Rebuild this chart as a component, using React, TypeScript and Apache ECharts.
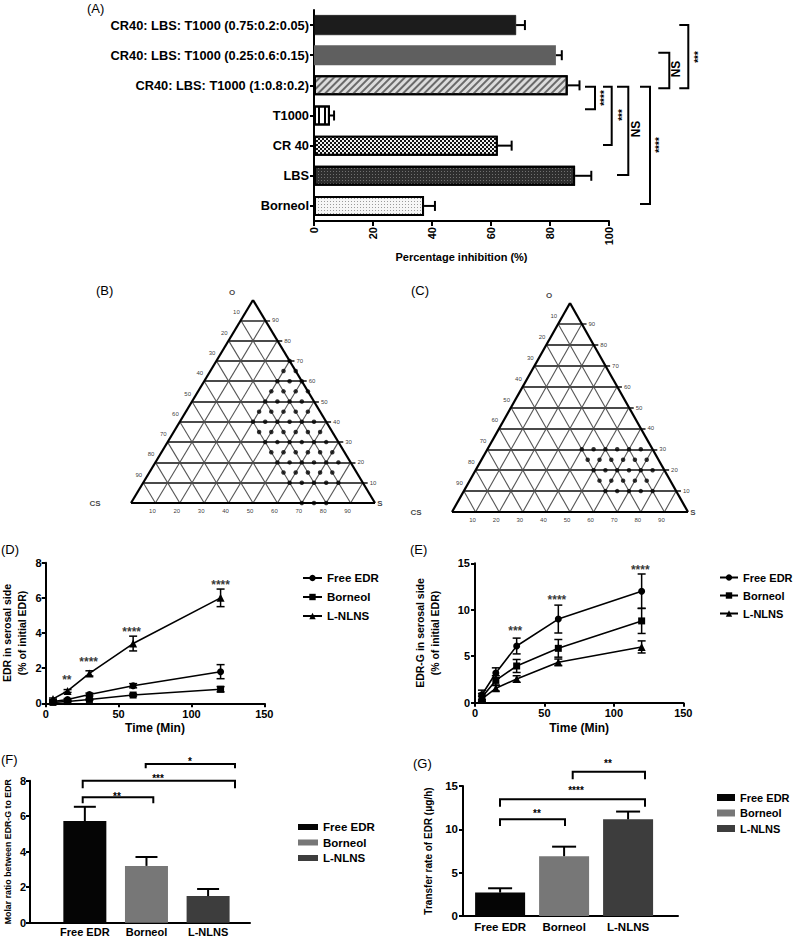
import React, { useEffect, useRef } from 'react';
import * as echarts from 'echarts';

const FONT = "'Liberation Sans', Arial, Helvetica, sans-serif";
const NARROW = "'Liberation Sans Narrow', 'Arial Narrow', 'Liberation Sans', Arial, sans-serif";

// ---------- Panel A ----------
const catsA = [
  'CR40: LBS: T1000 (0.75:0.2:0.05)',
  'CR40: LBS: T1000 (0.25:0.6:0.15)',
  'CR40: LBS: T1000 (1:0.8:0.2)',
  'T1000',
  'CR 40',
  'LBS',
  'Borneol',
];
const valuesA = [68.5, 82, 86, 5.4, 62.3, 88.5, 37.3];
const errorsA = [3, 2, 4, 1.4, 4.7, 5.5, 3.7];

// ---------- Ternary panels (B, C): [O, S] in % ----------
const ternTicks = [10, 20, 30, 40, 50, 60, 70, 80, 90];
const dotsB = [
  [70, 30],
  [65, 30], [65, 35],
  [60, 30], [60, 35], [60, 40],
  [55, 30], [55, 35], [55, 40], [55, 45],
  [50, 30], [50, 35], [50, 40], [50, 45],
  [45, 30], [45, 35], [45, 40], [45, 45], [45, 50],
  [40, 30], [40, 35], [40, 40], [40, 45], [40, 50], [40, 55],
  [35, 35], [35, 40], [35, 45], [35, 50], [35, 55], [35, 60],
  [30, 40], [30, 45], [30, 50], [30, 55], [30, 60], [30, 65],
  [25, 45], [25, 50], [25, 55], [25, 60], [25, 65], [25, 70],
  [20, 50], [20, 55], [20, 60], [20, 65], [20, 70], [20, 75],
  [15, 55], [15, 60], [15, 65], [15, 70], [15, 75],
  [10, 60], [10, 65], [10, 70], [10, 75], [10, 80],
  [0, 70], [0, 75], [0, 80],
];
const dotsC = [
  [30, 40], [30, 45], [30, 50], [30, 55], [30, 60], [30, 65],
  [25, 45], [25, 50], [25, 55], [25, 60], [25, 65], [25, 70],
  [20, 50], [20, 55], [20, 60], [20, 65], [20, 70], [20, 75],
  [15, 55], [15, 60], [15, 65], [15, 70], [15, 75],
  [10, 60], [10, 65], [10, 70], [10, 75], [10, 80],
];

// ---------- Panels D, E ----------
const times = [5, 15, 30, 60, 120];
const dFree = [0.1, 0.22, 0.5, 1.0, 1.8];
const dFreeErr = [0.04, 0.05, 0.08, 0.12, 0.4];
const dBorneol = [0.05, 0.1, 0.22, 0.47, 0.8];
const dBorneolErr = [0.03, 0.03, 0.05, 0.06, 0.15];
const dLNLNS = [0.25, 0.7, 1.7, 3.4, 6.0];
const dLNLNSErr = [0.05, 0.08, 0.15, 0.42, 0.5];
const dStarT = [14.5, 29.5, 59, 120];
const dStarV = [1.51, 2.52, 4.21, 6.92];
const dStarText = ['**', '****', '****', '****'];

const eFree = [0.85, 3.2, 6.1, 9.0, 12.0];
const eFreeErr = [0.5, 0.55, 0.85, 1.5, 1.85];
const eBorneol = [0.6, 2.4, 3.95, 5.85, 8.8];
const eBorneolErr = [0.4, 0.5, 0.7, 0.95, 1.35];
const eLNLNS = [0.4, 1.55, 2.55, 4.35, 6.0];
const eLNLNSErr = [0.3, 0.3, 0.35, 0.35, 0.65];
const eStarT = [29, 59, 119];
const eStarV = [8.0, 11.35, 14.63];
const eStarText = ['***', '****', '****'];

const legendNames = ['Free EDR', 'Borneol', 'L-NLNS'];
const lineSymbols = ['circle', 'rect', 'triangle'];

// ---------- Panels F, G ----------
const catsF = ['Free EDR', 'Borneol', 'L-NLNS'];
const valuesF = [5.73, 3.2, 1.5];
const errorsF = [0.8, 0.5, 0.4];
const valuesG = [2.7, 6.9, 11.15];
const errorsG = [0.5, 1.1, 0.9];
const barColors = ['#050505', '#777777', '#3d3d3d'];
const ZW = '\u200b';

// ---------- helpers ----------
const axisLine = { show: true, onZero: false, lineStyle: { color: '#000', width: 2 } };
const axisTick = { show: true, length: 4, lineStyle: { color: '#000', width: 2 } };
const bold = (size: number) => ({ color: '#000', fontWeight: 'bold', fontSize: size, fontFamily: FONT });
const noSplit = { show: false };

function vErrSeries(ax: number, xs: number[], ys: number[], es: number[], cap: number, upOnly: boolean, lw: number) {
  return {
    type: 'custom',
    xAxisIndex: ax,
    yAxisIndex: ax,
    silent: true,
    z: 5,
    data: xs.map((x, i) => [x, ys[i], es[i]]),
    renderItem: (_p: any, api: any) => {
      const x = api.value(0), y = api.value(1), e = api.value(2);
      const top = api.coord([x, y + e]);
      const bot = api.coord(upOnly ? [x, y] : [x, y - e]);
      const st = { stroke: '#000', lineWidth: lw };
      const ch: any[] = [
        { type: 'line', shape: { x1: top[0], y1: top[1], x2: bot[0], y2: bot[1] }, style: st },
        { type: 'line', shape: { x1: top[0] - cap, y1: top[1], x2: top[0] + cap, y2: top[1] }, style: st },
      ];
      if (!upOnly) ch.push({ type: 'line', shape: { x1: bot[0] - cap, y1: bot[1], x2: bot[0] + cap, y2: bot[1] }, style: st });
      return { type: 'group', children: ch };
    },
  };
}

function ternarySeries(ax: number, dots: number[][]) {
  const horiz: any[] = [];
  const diag: any[] = [];
  for (const k of ternTicks) {
    horiz.push({ coords: [[k / 2, k], [100 - k / 2 + 2, k]] });
    diag.push({ coords: [[k, 0], [k + (100 - k) / 2, 100 - k]] });
    diag.push({ coords: [[100 - k, 0], [(100 - k) / 2, 100 - k]] });
  }
  const outer = [
    { coords: [[0, 0], [100, 0]] },
    { coords: [[0, 0], [50, 100]] },
    { coords: [[100, 0], [50, 100]] },
  ];
  const tickLabel = {
    show: true, formatter: '{b}', fontSize: 6, color: '#000', fontFamily: FONT,
    textBorderWidth: 0, textShadowBlur: 0,
  };
  const labelSeries = (data: any[], label: any) => ({
    type: 'scatter', xAxisIndex: ax, yAxisIndex: ax, silent: true, symbolSize: 0,
    itemStyle: { color: '#000' },
    label, data,
  });
  return [
    { type: 'lines', coordinateSystem: 'cartesian2d', xAxisIndex: ax, yAxisIndex: ax, silent: true, z: 2, data: diag, lineStyle: { color: '#555', width: 1.1, opacity: 1 } },
    { type: 'lines', coordinateSystem: 'cartesian2d', xAxisIndex: ax, yAxisIndex: ax, silent: true, z: 3, data: horiz, lineStyle: { color: '#4a4a4a', width: 1.8, opacity: 1 } },
    { type: 'lines', coordinateSystem: 'cartesian2d', xAxisIndex: ax, yAxisIndex: ax, silent: true, z: 4, data: outer, lineStyle: { color: '#000', width: 2.2, opacity: 1 } },
    {
      type: 'scatter', xAxisIndex: ax, yAxisIndex: ax, silent: true, z: 6, symbol: 'circle', symbolSize: 4.5,
      itemStyle: { color: '#000' },
      data: dots.map(([o, s]) => [s + o / 2, o]),
    },
    labelSeries(
      ternTicks.map((k) => ({ name: String(k), value: [100 - k / 2 + 2, k] })),
      { ...tickLabel, position: 'right', distance: 2 },
    ),
    labelSeries(
      ternTicks.map((k) => ({ name: String(k), value: [(100 - k) / 2, 100 - k] })),
      { ...tickLabel, position: 'left', distance: 1, offset: [0, -8] },
    ),
    labelSeries(
      ternTicks.map((k) => ({ name: String(k), value: [k, 0] })),
      { ...tickLabel, position: 'bottom', distance: 5, offset: [-3, 0] },
    ),
    labelSeries(
      [
        { name: 'O', value: [50, 100], label: { offset: [-21, -8] } },
        { name: 'CS', value: [0, 0], label: { offset: [-36, 0] } },
        { name: 'S', value: [100, 0], label: { offset: [5, 0] } },
      ],
      { ...tickLabel, fontSize: 8, fontWeight: 'bold', color: '#111', position: 'inside' },
    ),
  ];
}

function lineSeries(ax: number, name: string, sym: string, vals: number[]) {
  return {
    type: 'line', name, xAxisIndex: ax, yAxisIndex: ax, z: 4,
    data: times.map((t, i) => [t, vals[i]]),
    symbol: sym, symbolSize: sym === 'triangle' ? 8 : 7, showAllSymbol: true,
    lineStyle: { color: '#000', width: 1.6 },
    itemStyle: { color: '#000' },
  };
}

function starSeries(ax: number, ts: number[], vs: number[], txt: string[]) {
  return {
    type: 'scatter', xAxisIndex: ax, yAxisIndex: ax, silent: true, symbolSize: 0, z: 6,
    itemStyle: { color: '#000' },
    data: ts.map((t, i) => ({ name: txt[i], value: [t, vs[i]] })),
    label: { show: true, position: 'inside', formatter: '{b}', ...bold(12), offset: [0, 3] },
  };
}

function barSeries(ax: number, vals: number[], width: number) {
  return catsF.map((c, i) => ({
    type: 'bar', name: c + ZW, xAxisIndex: ax, yAxisIndex: ax, barWidth: width, barGap: '-100%', z: 3,
    data: [[i, vals[i]]],
    itemStyle: { color: barColors[i] },
  }));
}

function bracket(points: number[][], lw = 2) {
  return { type: 'polyline', shape: { points }, style: { stroke: '#000', lineWidth: lw, fill: null } };
}
function txt(text: string, x: number, y: number, font: string, rotation = 0, align = 'center', vAlign = 'middle') {
  return { type: 'text', x, y, rotation, style: { text, font, fill: '#000', align, verticalAlign: vAlign } };
}

function buildOption() {
  const grids = [
    { left: 314, top: 10, width: 295, height: 211 },
    { left: 131, top: 300, width: 244, height: 203 },
    { left: 452, top: 303, width: 236, height: 209 },
    { left: 45.7, top: 562.7, width: 218.6, height: 140.6 },
    { left: 475, top: 563.3, width: 208.3, height: 139.4 },
    { left: 30, top: 780.7, width: 220, height: 142 },
    { left: 463, top: 786, width: 215, height: 130 },
  ].map((g) => ({ ...g, show: false, containLabel: false, outerBoundsMode: 'none' }));

  const hiddenX = (i: number) => ({ type: 'value', gridIndex: i, min: 0, max: 100, show: false });
  const hiddenY = (i: number) => ({ type: 'value', gridIndex: i, min: 0, max: 100, show: false });

  const xAxis = [
    {
      type: 'value', gridIndex: 0, min: 0, max: 100, interval: 20,
      axisLine, axisTick: { ...axisTick, length: 5 }, splitLine: noSplit,
      axisLabel: { ...bold(11), rotate: 90, margin: 6 },
      name: 'Percentage inhibition (%)', nameLocation: 'middle', nameGap: 30,
      nameTextStyle: bold(11),
    },
    hiddenX(1),
    hiddenX(2),
    {
      type: 'value', gridIndex: 3, min: 0, max: 150, interval: 50,
      axisLine, axisTick, splitLine: noSplit, axisLabel: { ...bold(11), margin: 5 },
      name: 'Time (Min)', nameLocation: 'middle', nameGap: 19, nameTextStyle: bold(12),
    },
    {
      type: 'value', gridIndex: 4, min: 0, max: 150, interval: 50,
      axisLine, axisTick, splitLine: noSplit, axisLabel: { ...bold(11), margin: 5 },
      name: 'Time (Min)', nameLocation: 'middle', nameGap: 19, nameTextStyle: bold(12),
    },
    {
      type: 'value', gridIndex: 5, min: -0.89, max: 2.68,
      axisLine, axisTick: { show: false }, splitLine: noSplit,
      axisLabel: { ...bold(11), margin: 4, customValues: [0, 1, 2], formatter: (v: number) => catsF[Math.round(v)] ?? '' },
    },
    {
      type: 'value', gridIndex: 6, min: -0.58, max: 2.78,
      axisLine, axisTick: { show: false }, splitLine: noSplit,
      axisLabel: { ...bold(11.5), margin: 5, customValues: [0, 1, 2], formatter: (v: number) => catsF[Math.round(v)] ?? '' },
    },
  ];

  const yAxis = [
    {
      type: 'category', gridIndex: 0, data: catsA, inverse: true,
      axisLine, axisTick: { ...axisTick, alignWithLabel: true }, splitLine: noSplit,
      axisLabel: { ...bold(12.8), margin: 5 },
    },
    hiddenY(1),
    hiddenY(2),
    {
      type: 'value', gridIndex: 3, min: 0, max: 8, interval: 2,
      axisLine, axisTick, splitLine: noSplit, axisLabel: { ...bold(11), margin: 4 },
      name: 'EDR in serosal side\n(% of initial EDR)', nameLocation: 'middle', nameRotate: 90, nameGap: 16,
      nameTextStyle: { ...bold(10.5), lineHeight: 15 },
    },
    {
      type: 'value', gridIndex: 4, min: 0, max: 15, interval: 5,
      axisLine, axisTick, splitLine: noSplit, axisLabel: { ...bold(11), margin: 5 },
      name: 'EDR-G in serosal side\n(% of initial EDR)', nameLocation: 'middle', nameRotate: 90, nameGap: 33,
      nameTextStyle: { ...bold(10.5), lineHeight: 15 },
    },
    {
      type: 'value', gridIndex: 5, min: 0, max: 8, interval: 2,
      axisLine, axisTick, splitLine: noSplit, axisLabel: { ...bold(11), margin: 4 },
      name: 'Molar ratio between EDR-G to EDR', nameLocation: 'middle', nameRotate: 90, nameGap: 18,
      nameTextStyle: { color: '#000', fontWeight: 'bold', fontSize: 8.8, fontFamily: NARROW },
    },
    {
      type: 'value', gridIndex: 6, min: 0, max: 15, interval: 5,
      axisLine, axisTick, splitLine: noSplit, axisLabel: { ...bold(11.5), margin: 5 },
      name: 'Transfer rate of EDR (\u03bcg/h)', nameLocation: 'middle', nameRotate: 90, nameGap: 30,
      nameTextStyle: { ...bold(10) },
    },
  ];

  const decals: any[] = [
    null,
    null,
    { symbol: 'rect', color: '#6a6a6a', dashArrayX: [1, 0], dashArrayY: [1.3, 2.2], rotation: -Math.PI / 4 },
    { symbol: 'rect', color: '#000', dashArrayX: [1.4, 3.4], dashArrayY: [1, 0] },
    { symbol: 'rect', color: '#f0f0f0', dashArrayX: [[1.5, 1.5], [0, 1.5, 1.5, 0]], dashArrayY: [1.5, 0] },
    { symbol: 'rect', color: '#707070', dashArrayX: [1, 1.5], dashArrayY: [1, 1.5] },
    { symbol: 'rect', color: '#9a9a9a', dashArrayX: [1, 1.5], dashArrayY: [1, 1.5] },
  ];
  const fillsA = ['#1c1c1c', '#5f5f5f', '#dcdcdc', '#ffffff', '#111111', '#2e2e2e', '#f6f6f6'];
  const bordersA = [0.5, 0, 2, 2, 2, 2, 2];

  const series: any[] = [
    {
      type: 'bar', xAxisIndex: 0, yAxisIndex: 0, barWidth: 20, z: 3,
      data: valuesA.map((v, i) => ({
        value: v,
        itemStyle: {
          color: fillsA[i], borderColor: '#000', borderWidth: bordersA[i],
          ...(decals[i] ? { decal: decals[i] } : {}),
        },
      })),
    },
    {
      type: 'custom', xAxisIndex: 0, yAxisIndex: 0, silent: true, z: 5,
      data: valuesA.map((v, i) => [v, i, errorsA[i]]),
      encode: { x: 0, y: 1 },
      renderItem: (_p: any, api: any) => {
        const v = api.value(0), c = api.value(1), e = api.value(2);
        const p0 = api.coord([v, c]);
        const p1 = api.coord([v + e, c]);
        const st = { stroke: '#000', lineWidth: 2 };
        return {
          type: 'group', children: [
            { type: 'line', shape: { x1: p0[0], y1: p0[1], x2: p1[0], y2: p1[1] }, style: st },
            { type: 'line', shape: { x1: p1[0], y1: p1[1] - 5, x2: p1[0], y2: p1[1] + 5 }, style: st },
          ],
        };
      },
    },
    ...ternarySeries(1, dotsB),
    ...ternarySeries(2, dotsC),
    lineSeries(3, legendNames[0], lineSymbols[0], dFree),
    lineSeries(3, legendNames[1], lineSymbols[1], dBorneol),
    lineSeries(3, legendNames[2], lineSymbols[2], dLNLNS),
    vErrSeries(3, times, dFree, dFreeErr, 4, false, 1.5),
    vErrSeries(3, times, dBorneol, dBorneolErr, 4, false, 1.5),
    vErrSeries(3, times, dLNLNS, dLNLNSErr, 4, false, 1.5),
    starSeries(3, dStarT, dStarV, dStarText),
    lineSeries(4, legendNames[0], lineSymbols[0], eFree),
    lineSeries(4, legendNames[1], lineSymbols[1], eBorneol),
    lineSeries(4, legendNames[2], lineSymbols[2], eLNLNS),
    vErrSeries(4, times, eFree, eFreeErr, 4, false, 1.5),
    vErrSeries(4, times, eBorneol, eBorneolErr, 4, false, 1.5),
    vErrSeries(4, times, eLNLNS, eLNLNSErr, 4, false, 1.5),
    starSeries(4, eStarT, eStarV, eStarText),
    ...barSeries(5, valuesF, 43),
    vErrSeries(5, [0, 1, 2], valuesF, errorsF, 11, true, 2),
    ...barSeries(6, valuesG, 50),
    vErrSeries(6, [0, 1, 2], valuesG, errorsG, 12, true, 2),
  ];

  const legBase = {
    orient: 'vertical', selectedMode: false,
    textStyle: { ...bold(11.5) },
  };
  const legend = [
    { ...legBase, left: 297, top: 567, itemWidth: 19, itemHeight: 8, itemGap: 7, data: legendNames },
    { ...legBase, left: 714, top: 567, itemWidth: 18, itemHeight: 8, itemGap: 7, data: legendNames, textStyle: { ...bold(11) } },
    {
      ...legBase, left: 293, top: 816, itemWidth: 20, itemHeight: 6, itemGap: 3.5, icon: 'rect',
      data: legendNames.map((n) => n + ZW), formatter: (n: string) => n.replace(ZW, ''),
    },
    {
      ...legBase, left: 712, top: 787, itemWidth: 18, itemHeight: 7, itemGap: 4.5, icon: 'rect',
      textStyle: { ...bold(11) },
      data: legendNames.map((n) => n + ZW), formatter: (n: string) => n.replace(ZW, ''),
    },
  ];

  const PL = `13px ${FONT}`;
  const NSF = `bold 12px ${FONT}`;
  const STA = `bold 10px ${FONT}`;
  const STF = `bold 10px ${FONT}`;
  const R = Math.PI / 2;
  const graphic = [
    txt('(A)', 87, 2, PL, 0, 'left', 'top'),
    txt('(B)', 96, 284, PL, 0, 'left', 'top'),
    txt('(C)', 411, 284, PL, 0, 'left', 'top'),
    txt('(D)', 1, 543, PL, 0, 'left', 'top'),
    txt('(E)', 410, 543, PL, 0, 'left', 'top'),
    txt('(F)', 1, 753, PL, 0, 'left', 'top'),
    txt('(G)', 413, 757, PL, 0, 'left', 'top'),
    // Panel A significance brackets
    bracket([[585, 86.7], [595, 86.7], [595, 109.3], [585, 109.3]]),
    txt('****', 604, 98, STA, R),
    bracket([[603, 86.7], [611.7, 86.7], [611.7, 145], [603, 145]]),
    txt('***', 622, 115, STA, R),
    bracket([[617, 86.7], [628.3, 86.7], [628.3, 175], [617, 175]]),
    txt('NS', 636, 129, NSF, R),
    bracket([[640, 86.7], [650, 86.7], [650, 204], [640, 204]]),
    txt('****', 659, 145, STA, R),
    bracket([[658.3, 52.7], [669.3, 52.7], [669.3, 88.3], [658.3, 88.3]]),
    txt('NS', 676, 69, NSF, R),
    bracket([[679.3, 25], [688.3, 25], [688.3, 88.3], [679.3, 88.3]]),
    txt('***', 698, 57, STA, R),
    // Panel F brackets
    bracket([[82.7, 803.3], [82.7, 797.3], [153.3, 797.3], [153.3, 803.3]]),
    txt('**', 117, 796, STF),
    bracket([[82.7, 788.3], [82.7, 780.7], [235, 780.7], [235, 788.3]]),
    txt('***', 158, 778, STF),
    bracket([[145.7, 768.3], [145.7, 764], [235, 764], [235, 768.3]]),
    txt('*', 190, 761, STF),
    // Panel G brackets
    bracket([[500, 826], [500, 819.3], [565, 819.3], [565, 826]]),
    txt('**', 537, 813, STF),
    bracket([[500, 806.7], [500, 799.3], [645, 799.3], [645, 806.7]]),
    txt('****', 576, 790, STF),
    bracket([[572.7, 779.3], [572.7, 771.7], [645, 771.7], [645, 779.3]]),
    txt('**', 608, 763, STF),
  ];

  return {
    animation: false,
    backgroundColor: '#fff',
    textStyle: { fontFamily: FONT },
    grid: grids,
    xAxis,
    yAxis,
    legend,
    series,
    graphic,
  };
}

export default function App() {
  const ref = useRef<HTMLDivElement>(null);
  useEffect(() => {
    const chart = echarts.init(ref.current as HTMLDivElement, null, { renderer: 'svg' });
    chart.setOption(buildOption() as any);
    return () => chart.dispose();
  }, []);
  return (
    <div
      ref={ref}
      style={{ position: 'fixed', left: 0, top: 0, width: 794, height: 938, background: '#fff' }}
    />
  );
}
